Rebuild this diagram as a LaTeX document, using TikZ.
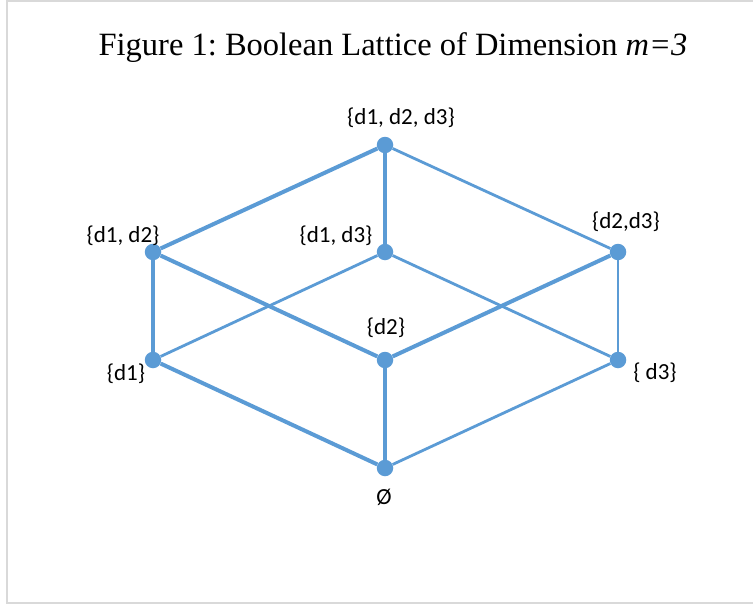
\documentclass[tikz,border=0pt]{standalone}
\usepackage{fontspec}
\setmainfont{Liberation Serif}
\newfontfamily\lblfont{Carlito}
\usepackage{xcolor}
\usetikzlibrary{positioning}
\definecolor{latblue}{HTML}{5B9BD5}
\definecolor{framegray}{HTML}{D9D9D9}
\frenchspacing

\begin{document}
\begin{tikzpicture}[
        x=1pt, y=-1pt,
        dot/.style={circle, fill=latblue, inner sep=0pt, minimum size=16.5pt},
        lbl/.style={font=\lblfont\fontsize{23}{23}\selectfont, inner sep=0pt},
        heavy/.style={draw=latblue, line width=4pt},
        light/.style={draw=latblue, line width=2.8pt}
    ]
        \useasboundingbox (0,0) rectangle (753,605);
        \draw[framegray, line width=2pt] (760,1) -- (7,1) -- (7,603) -- (760,603);
        \node[anchor=base, font=\fontsize{32.5}{32.5}\selectfont] (title) at (393,55) {Figure 1: Boolean Lattice of Dimension \textit{m=3}};
        % lattice points
        \node[dot] (top) at (385,145) {};
        \node[dot] (d12) at (153,252) {};
        \node[dot] (d13) at (385,252) {};
        \node[dot] (d23) at (618,252) {};
        \node[dot] (d1) at (153,360) {};
        \node[dot] (d2) at (385,360) {};
        \node[dot] (d3) at (618,360) {};
        \node[dot] (empty) at (385,468) {};
        % labels
        \node[lbl] (ltop) at (401,118) {\{d1, d2, d3\}};
        \node[lbl] (ld12) at (123,236) {\{d1, d2\}};
        \node[lbl] (ld13) at (336,236) {\{d1, d3\}};
        \node[lbl] (ld23) at (626,222) {\{d2,d3\}};
        \node[lbl] (ld2) at (386,328) {\{d2\}};
        \node[lbl] (ld1) at (126,374) {\{d1\}};
        \node[lbl] (ld3) at (655,373) {\{ d3\}};
        \node[lbl] (lempty) at (384,497) {Ø};
        % edges
        \draw[heavy] (top) -- (d12);
        \draw[heavy] (top) -- (d13);
        \draw[light] (top) -- (d23);
        \draw[heavy] (d12) -- (d1);
        \draw[heavy] (d12) -- (d2);
        \draw[light] (d13) -- (d1);
        \draw[light] (d13) -- (d3);
        \draw[heavy] (d23) -- (d2);
        \draw[light] (d23) -- (d3);
        \draw[heavy] (d1) -- (empty);
        \draw[heavy] (d2) -- (empty);
        \draw[light] (d3) -- (empty);
    \end{tikzpicture}
\end{document}
